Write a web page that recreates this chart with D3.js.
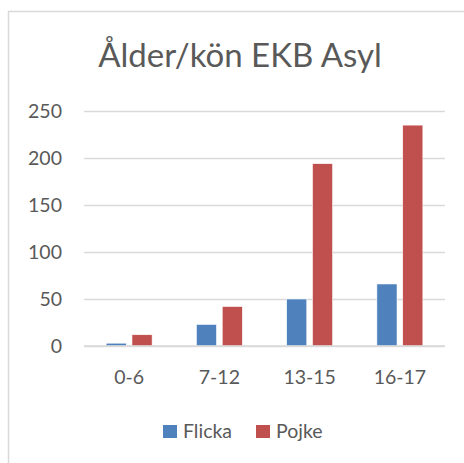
<!DOCTYPE html>
<html>
<head>
<meta charset="utf-8">
<script src="https://cdn.jsdelivr.net/npm/d3@7"></script>
<style>
  body { margin: 0; background: #fff; }
  text { font-family: Lato, "Open Sans", sans-serif; fill: #595959; }
</style>
</head>
<body>
<div id="chart"></div>
<script>
// data
var categories = ["0-6", "7-12", "13-15", "16-17"];
var seriesNames = ["Flicka", "Pojke"];
var flicka = [3, 23, 50, 66];
var pojke = [12, 42, 194, 235];
var yTicks = [0, 50, 100, 150, 200, 250];
var colors = ["#4F81BD", "#C0504D"];

var svgWidth = 464;
var svgHeight = 463;

// plot area (gridline extent)
var plot = { left: 84, right: 445, top: 111, bottom: 346 };

var svg = d3.select("#chart").append("svg")
    .attr("width", svgWidth)
    .attr("height", svgHeight);

// chart frame, runs past the right/bottom edge like the screenshot
svg.append("rect")
    .attr("x", 8.5)
    .attr("y", 11.5)
    .attr("width", 480)
    .attr("height", 480)
    .attr("fill", "#fff")
    .attr("stroke", "#D9D9D9")
    .attr("stroke-width", 1.5);

// title
svg.append("text")
    .attr("x", 240)
    .attr("y", 67)
    .attr("text-anchor", "middle")
    .attr("font-size", 33)
    .text("Ålder/kön EKB Asyl");

var xScale = d3.scaleBand()
    .domain(categories)
    .range([plot.left, plot.right])
    .paddingInner(0)
    .paddingOuter(0);

var xInner = d3.scaleBand()
    .domain(seriesNames)
    .range([xScale.bandwidth() / 2 - 23, xScale.bandwidth() / 2 + 23])
    .paddingInner(0.22)
    .paddingOuter(0);

var yScale = d3.scaleLinear()
    .domain([0, 250])
    .range([plot.bottom, plot.top]);

// gridlines + y labels via axis
var yAxis = d3.axisLeft(yScale)
    .tickValues(yTicks)
    .tickSize(-(plot.right - plot.left))
    .tickPadding(22);

var yG = svg.append("g")
    .attr("transform", `translate(${plot.left}, 0)`)
    .call(yAxis);
yG.select(".domain").remove();
yG.selectAll(".tick line")
    .attr("stroke", "#D9D9D9")
    .attr("stroke-width", 1.5);
yG.selectAll(".tick text")
    .attr("font-size", 19.5)
    .attr("fill", "#595959")
    .attr("font-family", "Lato, sans-serif");

// bars
var rows = categories.map(function (c, i) {
    return { cat: c, values: [flicka[i], pojke[i]] };
});

var groups = svg.selectAll(".grp")
    .data(rows)
    .enter().append("g")
    .attr("transform", d => `translate(${xScale(d.cat)}, 0)`);

groups.selectAll("rect")
    .data(d => d.values.map((v, j) => ({ name: seriesNames[j], value: v, color: colors[j] })))
    .enter().append("rect")
    .attr("x", d => xInner(d.name))
    .attr("width", xInner.bandwidth())
    .attr("y", d => yScale(d.value))
    .attr("height", d => yScale(0) - yScale(d.value))
    .attr("fill", d => d.color)
    .attr("stroke", "#fff")
    .attr("stroke-width", 0.6);

// x axis line (redraw zero gridline over bars)
svg.append("line")
    .attr("x1", plot.left)
    .attr("x2", plot.right)
    .attr("y1", yScale(0))
    .attr("y2", yScale(0))
    .attr("stroke", "#D9D9D9")
    .attr("stroke-width", 1.5);

// category labels
var xAxis = d3.axisBottom(xScale).tickSize(0).tickPadding(24);
var xG = svg.append("g")
    .attr("transform", `translate(0, ${plot.bottom})`)
    .call(xAxis);
xG.select(".domain").remove();
xG.selectAll(".tick text")
    .attr("font-size", 19.5)
    .attr("fill", "#595959")
    .attr("font-family", "Lato, sans-serif");

// legend
var legendX = [163, 256];
var legend = svg.selectAll(".legend")
    .data(seriesNames)
    .enter().append("g")
    .attr("transform", (d, i) => `translate(${legendX[i]}, 425)`);

legend.append("rect")
    .attr("width", 14)
    .attr("height", 13)
    .attr("fill", (d, i) => colors[i]);

legend.append("text")
    .attr("x", 20)
    .attr("y", 13)
    .attr("font-size", 19.5)
    .text(d => d);
</script>
</body>
</html>
